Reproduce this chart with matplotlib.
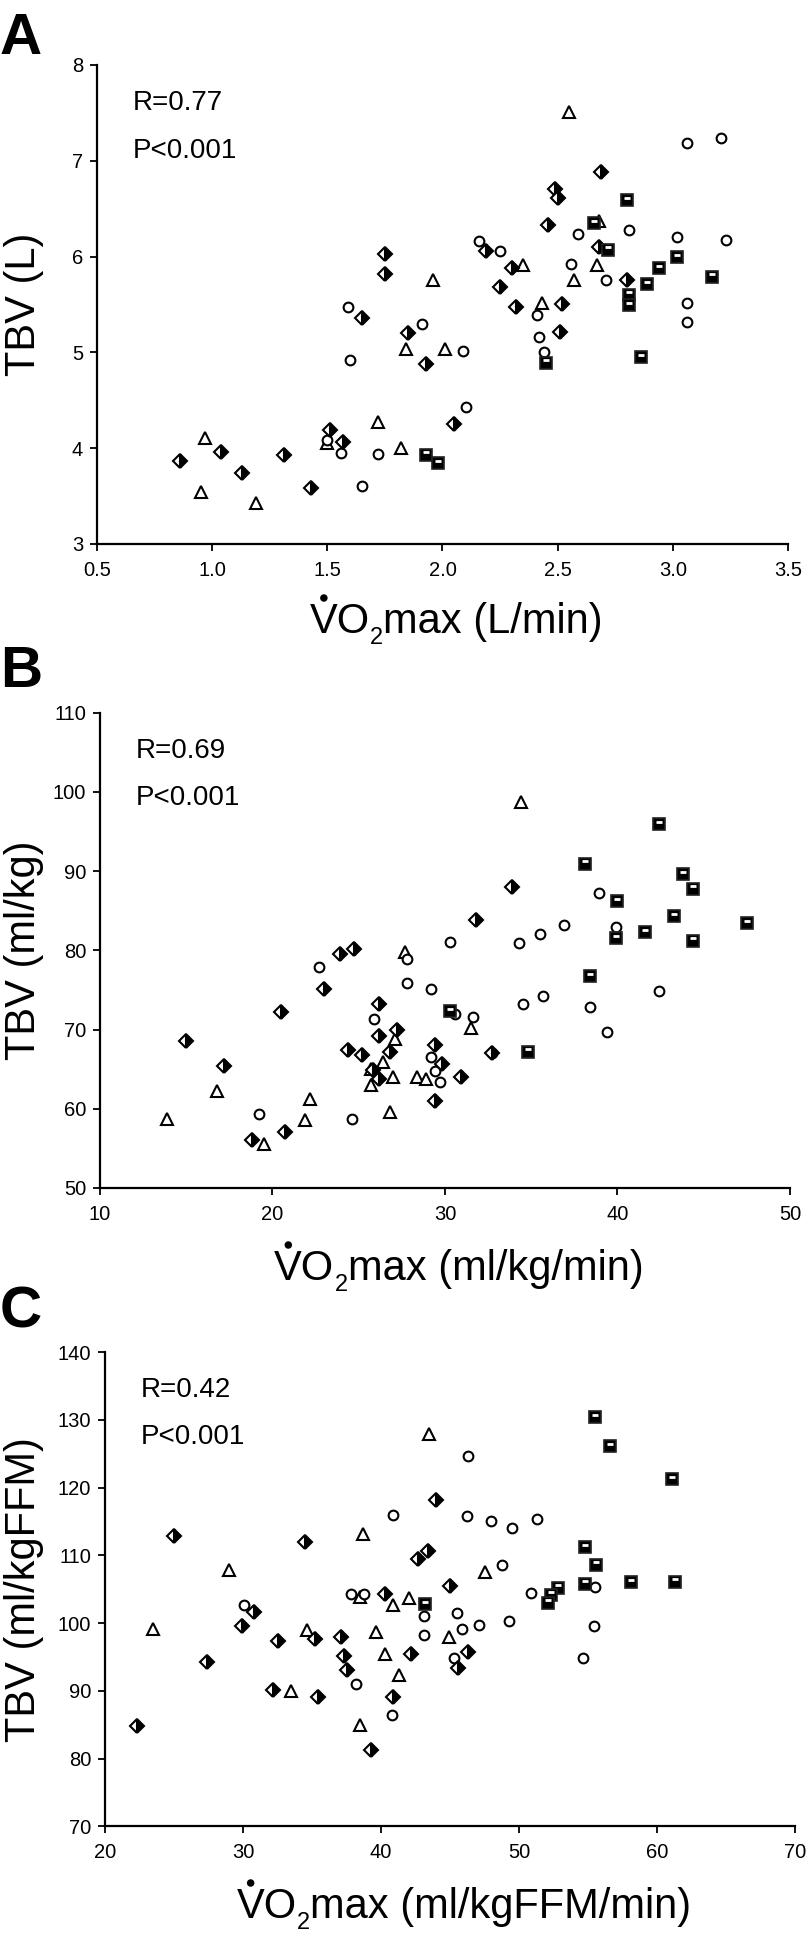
import matplotlib
matplotlib.use('Agg')
import matplotlib.pyplot as plt
import matplotlib.transforms as mtransforms
from matplotlib import font_manager
from matplotlib.patches import Ellipse

plt.rcParams['font.family'] = ['Liberation Sans', 'DejaVu Sans']


def pick_font(names):
    for n in names:
        try:
            font_manager.findfont(font_manager.FontProperties(family=n), fallback_to_default=False)
            return n
        except ValueError:
            continue
    return 'DejaVu Sans'


# Panel A ---------------------------------------------------------------
a_circ_x = [3.06, 3.21, 2.81, 2.59, 3.02, 3.23, 2.16, 2.25, 2.56, 2.71, 3.06, 3.06,
            1.59, 1.91, 2.41, 2.42, 2.44, 1.60, 2.09, 2.10, 1.50, 1.56, 1.72, 1.65]
a_circ_y = [7.19, 7.24, 6.28, 6.24, 6.20, 6.17, 6.16, 6.06, 5.92, 5.76, 5.51, 5.32,
            5.47, 5.30, 5.39, 5.16, 5.00, 4.92, 5.01, 4.43, 4.08, 3.95, 3.94, 3.60]
a_tri_x = [2.55, 2.68, 2.35, 2.67, 2.57, 1.96, 2.43, 1.84, 2.01, 0.97, 1.72, 1.50,
           1.82, 0.95, 1.19]
a_tri_y = [7.51, 6.37, 5.91, 5.91, 5.76, 5.75, 5.52, 5.03, 5.03, 4.11, 4.27, 4.05,
           4.00, 3.54, 3.43]
a_dia_x = [2.69, 2.49, 2.50, 2.46, 1.75, 1.75, 2.19, 2.30, 2.68, 2.25, 2.32, 2.52,
           2.80, 2.51, 1.65, 1.85, 1.93, 2.05, 1.51, 1.57, 0.86, 1.04, 1.13, 1.31, 1.43]
a_dia_y = [6.88, 6.71, 6.61, 6.33, 6.03, 5.82, 6.06, 5.88, 6.10, 5.68, 5.47, 5.50,
           5.75, 5.21, 5.36, 5.20, 4.88, 4.25, 4.19, 4.06, 3.87, 3.96, 3.74, 3.93, 3.58]
a_sq_x = [2.80, 2.66, 2.72, 2.94, 3.02, 2.89, 3.17, 2.81, 2.81, 2.86, 2.45, 1.93, 1.98]
a_sq_y = [6.59, 6.35, 6.07, 5.88, 5.99, 5.71, 5.79, 5.60, 5.49, 4.95, 4.89, 3.93, 3.84]

# Panel B ---------------------------------------------------------------
b_circ_x = [38.9, 36.9, 35.5, 34.3, 30.3, 39.9, 22.7, 27.8, 27.8, 29.2, 42.4, 35.7,
            34.5, 38.4, 25.9, 30.6, 31.6, 39.4, 32.7, 29.2, 29.4, 29.7, 19.2, 24.6]
b_circ_y = [87.2, 83.2, 82.1, 80.9, 81.1, 82.9, 77.9, 78.9, 75.9, 75.1, 74.9, 74.2,
            73.2, 72.8, 71.3, 71.9, 71.6, 69.7, 67.0, 66.5, 64.8, 63.4, 59.4, 58.7]
b_tri_x = [34.4, 27.7, 31.5, 27.1, 26.4, 25.7, 25.7, 27.0, 28.4, 28.9, 16.8, 22.2,
           21.9, 13.9, 19.5, 26.8]
b_tri_y = [98.7, 79.8, 70.2, 68.8, 65.9, 65.0, 63.0, 64.0, 64.0, 63.7, 62.3, 61.2,
           58.6, 58.7, 55.5, 59.6]
b_dia_x = [33.9, 31.8, 24.7, 23.9, 23.0, 20.5, 26.2, 27.2, 26.2, 15.0, 17.2, 24.4,
           25.2, 26.8, 29.4, 29.8, 25.8, 26.2, 30.9, 29.4, 32.7, 18.8, 20.7]
b_dia_y = [88.0, 83.8, 80.2, 79.5, 75.1, 72.2, 73.2, 70.0, 69.2, 68.5, 65.4, 67.4,
           66.8, 67.2, 68.1, 65.6, 64.9, 63.8, 64.0, 61.0, 67.0, 56.0, 57.1]
b_sq_x = [42.4, 38.1, 43.8, 44.4, 40.0, 43.3, 41.6, 47.5, 39.9, 44.4, 38.4, 30.3, 34.8]
b_sq_y = [95.9, 90.9, 89.6, 87.8, 86.2, 84.3, 82.3, 83.4, 81.5, 81.2, 76.7, 72.3, 67.2]

# Panel C ---------------------------------------------------------------
c_circ_x = [46.3, 40.9, 46.2, 48.0, 49.5, 51.3, 48.8, 50.9, 55.5, 37.8, 38.8, 30.1,
            43.1, 45.5, 45.9, 47.1, 49.3, 55.4, 43.1, 45.3, 54.6, 38.2, 40.8]
c_circ_y = [124.7, 115.9, 115.8, 115.0, 114.1, 115.3, 108.6, 104.4, 105.4, 104.3, 104.3,
            102.7, 101.1, 101.5, 99.1, 99.7, 100.3, 99.5, 98.2, 94.9, 94.8, 91.0, 86.5]
c_tri_x = [43.5, 38.7, 29.0, 47.5, 42.0, 38.5, 40.9, 23.5, 34.6, 39.6, 44.9, 40.3,
           41.3, 33.5, 38.5]
c_tri_y = [127.9, 113.2, 107.9, 107.5, 103.7, 103.9, 102.6, 99.1, 99.0, 98.7, 98.0,
           95.4, 92.4, 90.0, 85.0]
c_dia_x = [44.0, 25.0, 34.5, 43.4, 42.7, 45.0, 40.3, 30.8, 29.9, 32.5, 35.2, 37.1,
           27.4, 37.3, 37.5, 42.2, 46.3, 45.6, 32.2, 35.4, 40.9, 22.3, 39.3]
c_dia_y = [118.1, 112.9, 112.0, 110.6, 109.4, 105.5, 104.3, 101.7, 99.5, 97.3, 97.6,
           98.0, 94.3, 95.1, 93.1, 95.5, 95.7, 93.4, 90.1, 89.1, 89.1, 84.8, 81.3]
c_sq_x = [55.5, 56.6, 61.1, 54.8, 55.6, 58.1, 61.3, 54.8, 52.8, 52.3, 52.1, 43.2]
c_sq_y = [130.4, 126.1, 121.2, 111.2, 108.6, 106.0, 106.1, 105.8, 105.2, 104.2, 103.0, 102.8]

panels = [
    dict(letter='A', rect=[0.1196, 0.7202, 0.8520, 0.2464], xlim=(0.5, 3.5), ylim=(3, 8),
         xticks=[0.5, 1.0, 1.5, 2.0, 2.5, 3.0, 3.5], yticks=[3, 4, 5, 6, 7, 8], xfmt='{:.1f}',
         ylabel='TBV (L)', xunit='max (L/min)',
         r='R=0.77', circ=(a_circ_x, a_circ_y), tri=(a_tri_x, a_tri_y),
         dia=(a_dia_x, a_dia_y), sq=(a_sq_x, a_sq_y), letter_y=12, xlab_y=633),
    dict(letter='B', rect=[0.1233, 0.3889, 0.8508, 0.2445], xlim=(10, 50), ylim=(50, 110),
         xticks=[10, 20, 30, 40, 50], yticks=[50, 60, 70, 80, 90, 100, 110], xfmt='{:d}',
         ylabel='TBV (ml/kg)', xunit='max (ml/kg/min)',
         r='R=0.69', circ=(b_circ_x, b_circ_y), tri=(b_tri_x, b_tri_y),
         dia=(b_dia_x, b_dia_y), sq=(b_sq_x, b_sq_y), letter_y=645, xlab_y=1280),
    dict(letter='C', rect=[0.1295, 0.0605, 0.8508, 0.2440], xlim=(20, 70), ylim=(70, 140),
         xticks=[20, 30, 40, 50, 60, 70], yticks=[70, 80, 90, 100, 110, 120, 130, 140], xfmt='{:d}',
         ylabel='TBV (ml/kgFFM)', xunit='max (ml/kgFFM/min)',
         r='R=0.42', circ=(c_circ_x, c_circ_y), tri=(c_tri_x, c_tri_y),
         dia=(c_dia_x, c_dia_y), sq=(c_sq_x, c_sq_y), letter_y=1285, xlab_y=1918),
]

W, H = 811, 1944
fig = plt.figure(figsize=(W / 100, H / 100), dpi=100)
tick_font = pick_font(['Liberation Sans Narrow', 'DejaVu Sans Condensed', 'Liberation Sans'])
lab_fs = 30
sub_fs = 17

for p in panels:
    ax = fig.add_axes(p['rect'])
    ax.set_xlim(*p['xlim'])
    ax.set_ylim(*p['ylim'])
    for s in ['top', 'right']:
        ax.spines[s].set_visible(False)
    for s in ['left', 'bottom']:
        ax.spines[s].set_linewidth(1.6)
    ax.set_xticks(p['xticks'])
    ax.set_xticklabels([p['xfmt'].format(t) for t in p['xticks']], family=tick_font, fontsize=14.5)
    ax.set_yticks(p['yticks'])
    ax.set_yticklabels([str(t) for t in p['yticks']], family=tick_font, fontsize=14.5)
    ax.tick_params(axis='both', direction='out', length=5, width=1.3)
    ax.tick_params(axis='x', pad=7)
    ax.tick_params(axis='y', pad=5)

    # markers: triangles, circles, half diamonds, squares
    ax.plot(*p['tri'], ls='none', marker='^', ms=8.5, mfc='white', mec='black', mew=1.5, clip_on=False)
    ax.plot(*p['circ'], ls='none', marker='o', ms=7, mfc='white', mec='black', mew=1.5, clip_on=False)
    ax.plot(*p['dia'], ls='none', marker='D', ms=7.2, fillstyle='right', mfc='black',
            markerfacecoloralt='white', mec='black', mew=1.5, clip_on=False)
    ax.plot(*p['sq'], ls='none', marker='s', ms=8, mfc='black', mec='#222222', mew=1.2, clip_on=False)
    up = mtransforms.offset_copy(ax.transData, fig=fig, x=0, y=2.5, units='dots')
    ax.plot(*p['sq'], ls='none', marker='_', ms=4.5, mew=2, color='white', transform=up, clip_on=False)

    ax.text(0.052, 0.92, p['r'], transform=ax.transAxes, fontsize=20, va='center', ha='left')
    ax.text(0.052, 0.82, 'P<0.001', transform=ax.transAxes, fontsize=20, va='center', ha='left')

    l, b, w, h = p['rect']
    fig.text(0.0, 1 - p['letter_y'] / H, p['letter'], fontsize=42, fontweight='bold', va='top', ha='left')
    fig.text(24 / W, b + h / 2, p['ylabel'], fontsize=lab_fs, rotation=90, va='center', ha='center')

# x labels: "V(dot)O" + lowered subscript 2 + "max (...)", centred under each axes
renderer = fig.canvas.get_renderer()
for p in panels:
    l, b, w, h = p['rect']
    yb = H - p['xlab_y']
    t1 = fig.text(0, yb / H, 'VO', fontsize=lab_fs, va='baseline', ha='left')
    t2 = fig.text(0, (yb - 11) / H, '2', fontsize=sub_fs, va='baseline', ha='left')
    t3 = fig.text(0, yb / H, p['xunit'], fontsize=lab_fs, va='baseline', ha='left')
    w1 = t1.get_window_extent(renderer).width
    w2 = t2.get_window_extent(renderer).width
    w3 = t3.get_window_extent(renderer).width
    x0 = (l + 0.52 * w) * W - (w1 + w2 + w3) / 2
    t1.set_x(x0 / W)
    t2.set_x((x0 + w1) / W)
    t3.set_x((x0 + w1 + w2) / W)
    # dot over the V
    fig.patches.append(Ellipse(((x0 + 14) / W, (yb + 35) / H), 7.5 / W, 7.5 / H,
                               transform=fig.transFigure, facecolor='black', edgecolor='none'))

fig.savefig('out.png', dpi=100)
